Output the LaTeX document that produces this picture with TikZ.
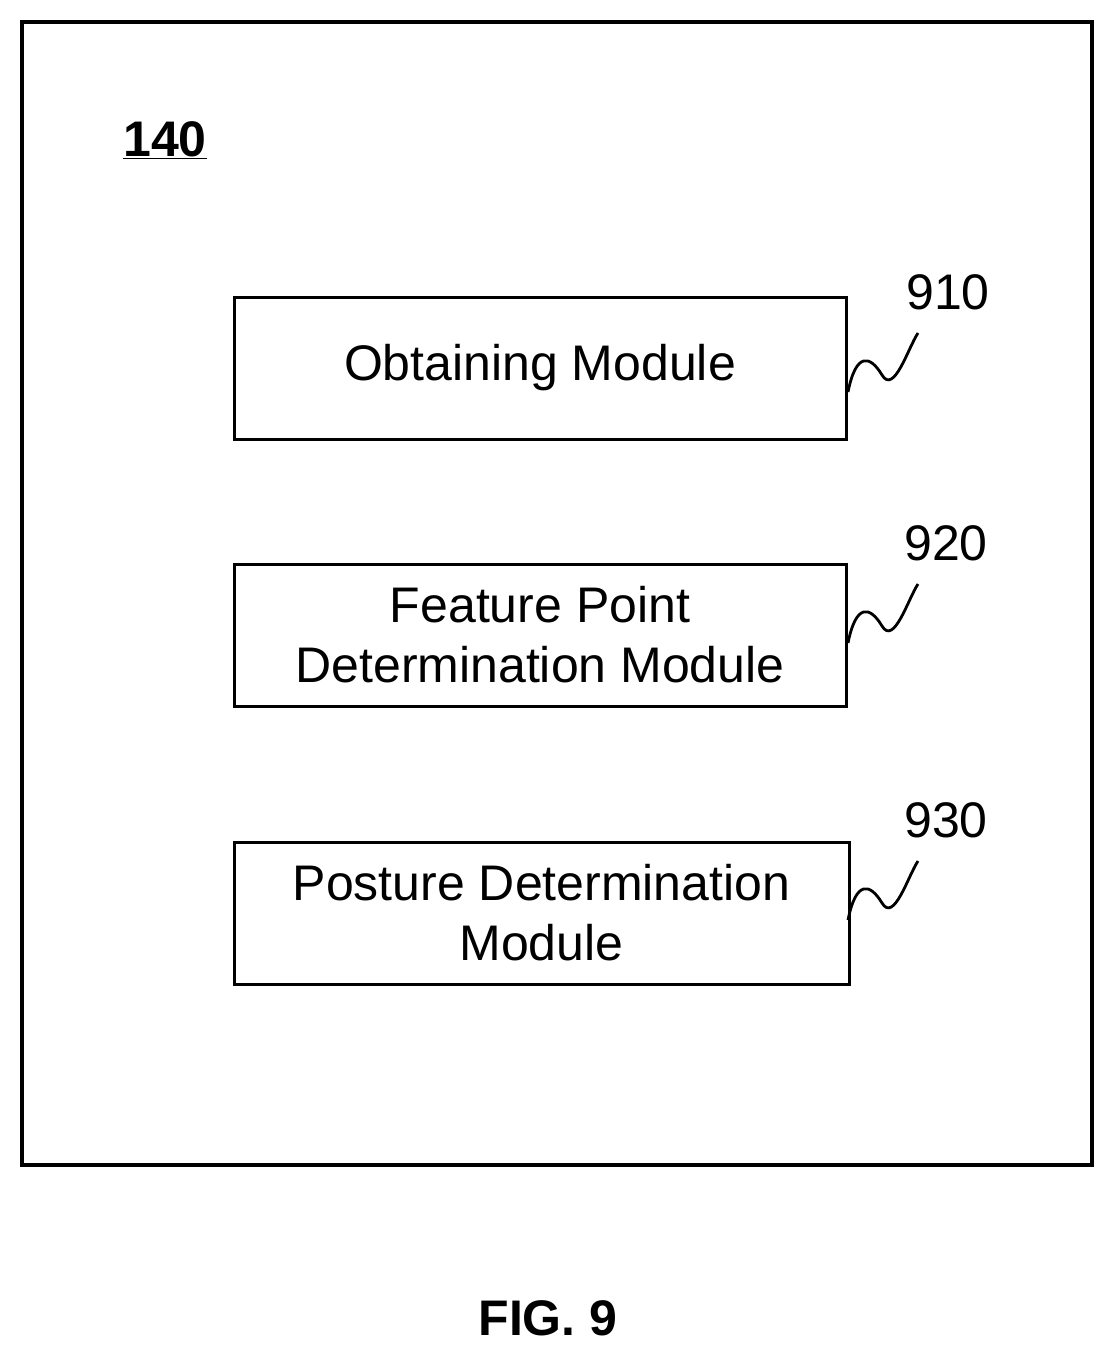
\documentclass[tikz,border=0pt]{standalone}
\usepackage{fontspec}
\setmainfont{Liberation Sans}
\begin{document}
\begin{tikzpicture}[x=1pt,y=-1pt,
  box/.style={draw,line width=3pt,minimum width=612pt,minimum height=142pt,align=center,font=\fontsize{50}{60}\selectfont},
  lbl/.style={font=\fontsize{50}{56}\selectfont},
  sq/.style={line width=2.8pt}]
\useasboundingbox (0,0) rectangle (1114,1354);
\node[draw,line width=4.5pt,minimum width=1070pt,minimum height=1143pt] (outer) at (557,593.5) {};
\node[font=\fontsize{50}{56}\bfseries\selectfont] (t) at (165,140) {\underline{140}};
\node[box] (b1) at (540,368) {Obtaining Module};
\node[box] (b2) at (540,635) {Feature Point\\Determination Module};
\node[box,minimum width=615pt] (b3) at (541.5,913) {Posture Determination\\Module};
\node[lbl] (l1) at (948,292) {910};
\node[lbl] (l2) at (946,543) {920};
\node[lbl] (l3) at (946,820) {930};
\foreach \b/\y in {b1/392,b2/643,b3/920}{
  \coordinate (s\b) at (848,\y);
  \draw[sq] (s\b) .. controls +(8,-40) and +(-12,-20) .. ++(34,-17) .. controls +(12,20) and +(-10,15) .. ++(36,-42);
}
\node[font=\fontsize{50}{56}\bfseries\selectfont] (fig) at (548,1318) {FIG. 9};
\end{tikzpicture}
\end{document}
